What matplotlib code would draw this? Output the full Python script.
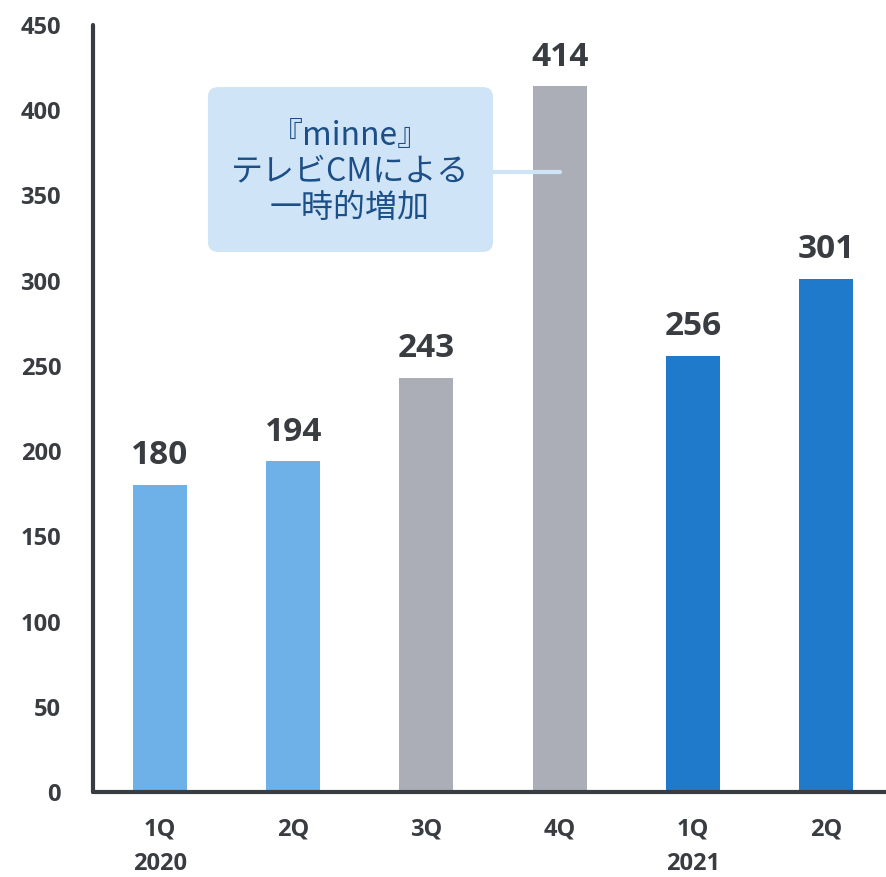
import matplotlib
matplotlib.use('Agg')
import matplotlib.pyplot as plt
from matplotlib.patches import FancyBboxPatch

plt.rcParams['font.family'] = ['Open Sans', 'Noto Sans CJK JP', 'DejaVu Sans']

# data
quarters = ['1Q', '2Q', '3Q', '4Q', '1Q', '2Q']
years = ['2020', '', '', '', '2021', '']
values = [180, 194, 243, 414, 256, 301]
colors = ['#6eb0e8', '#6eb0e8', '#abaeb6', '#abaeb6', '#1f7acb', '#1f7acb']
note = '『minne』\nテレビCMによる\n一時的増加'

dark = '#393c41'

fig = plt.figure(figsize=(8.87, 8.77), dpi=100)
ax = fig.add_axes([93 / 887, 85 / 877, 794 / 887, 767 / 877])

x = list(range(len(values)))
ax.bar(x, values, width=0.405, color=colors, zorder=2)

for xi, v in zip(x, values):
    ax.annotate(str(v), (xi, v), xytext=(0, 15), textcoords='offset points',
                ha='center', va='baseline', fontsize=24, fontweight='bold', color=dark)

ax.set_xlim(-0.503, 5.458)
ax.set_ylim(0, 450)
ax.set_yticks(range(0, 451, 50))
ax.set_xticks(x)
ax.set_xticklabels(quarters, va='center')
ax.tick_params(axis='both', length=0, labelsize=17, colors=dark)
ax.tick_params(axis='y', pad=23)
ax.tick_params(axis='x', pad=27)
for lbl in ax.get_xticklabels() + ax.get_yticklabels():
    lbl.set_fontweight('bold')

# year under first quarter of each year
for xi, yr in zip(x, years):
    if yr:
        ax.annotate(yr, (xi, 0), xycoords=('data', 'axes fraction'),
                    xytext=(0, -52), textcoords='offset points',
                    ha='center', va='center', fontsize=17, fontweight='bold', color=dark)

for s in ['top', 'right']:
    ax.spines[s].set_visible(False)
for s in ['left', 'bottom']:
    ax.spines[s].set_linewidth(3)
    ax.spines[s].set_color(dark)
    ax.spines[s].set_capstyle('round')

# callout box with connector
ax.plot([2.50, 3.0], [363.8, 363.8], color='#cfe4f6', lw=3, solid_capstyle='round', zorder=3)
box = FancyBboxPatch((0.36, 316.8), 2.14, 96.8,
                     boxstyle='round,pad=0,rounding_size=0.08', mutation_aspect=70,
                     fc='#cfe4f6', ec='none', zorder=3)
ax.add_patch(box)
ax.text(1.426, 363.8, note, ha='center', va='center', fontsize=23,
        family=['Noto Sans CJK JP', 'DejaVu Sans'],
        color='#1c4f87', linespacing=1.16, zorder=4)

fig.savefig('out.png', dpi=100)
